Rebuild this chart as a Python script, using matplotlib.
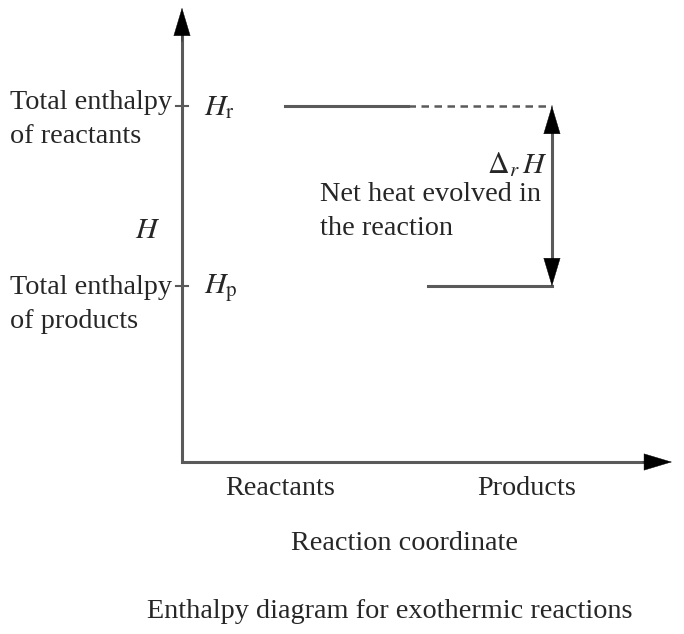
import matplotlib
matplotlib.use("Agg")
import matplotlib.pyplot as plt

# ---- data (diagram units: reaction coordinate 0-10, enthalpy 0-10) ----
levels = {"reactants": 7.88, "products": 3.89}
reactant_span = [2.1, 4.61]
dashed_span = [4.61, 7.55]
product_span = [5.02, 7.55]
tick_positions = [2.0, 7.04]
tick_labels = ["Reactants", "Products"]
level_names = ["Total enthalpy\nof reactants", "Total enthalpy\nof products"]
level_symbols = [r"$H_{\mathrm{r}}$", r"$H_{\mathrm{p}}$"]

plt.rcParams["font.family"] = ["Liberation Serif", "DejaVu Serif"]
plt.rcParams["mathtext.fontset"] = "stix"

W, H = 684, 634
fig = plt.figure(figsize=(W / 100, H / 100), dpi=100)
ax = fig.add_axes([182 / W, (634 - 462) / H, (672 - 182) / W, (462 - 10) / H])
ax.set_xlim(0, 10)
ax.set_ylim(0, 10)
for s in ax.spines.values():
    s.set_visible(False)
ax.set_xticks([])
ax.set_yticks([])

axis_col = "#5a5a5a"
txt_col = "#262626"
fs = 20.3
mfs = 21.5
ls_txt = 1.5
name_offsets = [0.3, 0.4]


def head(xy, frm):
    ax.annotate("", xy=xy, xytext=frm,
                arrowprops=dict(arrowstyle="-|>,head_length=1.4,head_width=0.42", fc="black",
                                ec="black", lw=0.3, shrinkA=0, shrinkB=0, mutation_scale=14),
                annotation_clip=False)


# axes lines (gray) with black heads
ax.plot([0, 0], [0, 9.5], color=axis_col, lw=2.2, clip_on=False, solid_capstyle="butt")
ax.plot([0, 9.6], [0, 0], color=axis_col, lw=2.2, clip_on=False, solid_capstyle="projecting")
head((0, 10.05), (0, 9.3))
head((10.0, 0), (9.4, 0))

# level ticks and labels
for lv, name, sym, off in zip([levels["reactants"], levels["products"]], level_names,
                              level_symbols, name_offsets):
    ax.plot([-0.12, 0.12], [lv, lv], color=axis_col, lw=1.5, clip_on=False)
    ax.text(-3.52, lv - off, name, ha="left", va="center", fontsize=fs, color=txt_col,
            linespacing=ls_txt, multialignment="left")
    ax.text(0.45, lv - 0.05, sym, ha="left", va="center", fontsize=mfs, color=txt_col)

ax.text(-0.7, 5.12, r"$H$", ha="center", va="center", fontsize=mfs, color=txt_col)

# enthalpy levels
ax.plot(reactant_span, [levels["reactants"]] * 2, color=axis_col, lw=2.2)
ax.plot(dashed_span, [levels["reactants"]] * 2, color=axis_col, lw=1.8, ls=(0, (3, 2.2)))
ax.plot(product_span, [levels["products"]] * 2, color=axis_col, lw=2.2)

# double arrow
xa = dashed_span[1]
ax.plot([xa, xa], [levels["products"] + 0.3, levels["reactants"] - 0.3], color=axis_col, lw=2.2)
head((xa, levels["reactants"]), (xa, levels["reactants"] - 0.6))
head((xa, levels["products"]), (xa, levels["products"] + 0.6))

ax.text(7.45, 6.57, r"$\Delta_r\,H$", ha="right", va="center", fontsize=mfs, color=txt_col)
ax.text(2.82, 5.54, "Net heat evolved in\nthe reaction", ha="left", va="center", fontsize=fs,
        color=txt_col, linespacing=ls_txt, multialignment="left")

# category labels
for xp, lab in zip(tick_positions, tick_labels):
    ax.text(xp, -0.58, lab, ha="center", va="center", fontsize=fs, color=txt_col)

ax.text(4.55, -1.8, "Reaction coordinate", ha="center", va="center", fontsize=fs, color=txt_col)
fig.text(390 / W, 1 - 611 / H, "Enthalpy diagram for exothermic reactions", ha="center",
         va="center", fontsize=fs, color=txt_col)

fig.savefig("out.png", dpi=100)
